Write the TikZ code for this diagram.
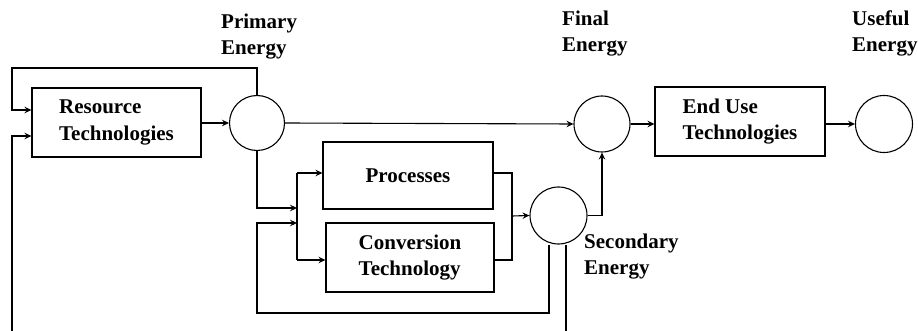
\documentclass[tikz,border=0pt]{standalone}
\usepackage{fontspec}
\setmainfont{Liberation Serif}
\usetikzlibrary{arrows.meta,calc}

\begin{document}
\begin{tikzpicture}[
  x=1pt, y=-1pt,
  every node/.style={font=\fontsize{21}{26.5}\selectfont\bfseries},
  line/.style={draw=black, line width=1.1pt},
  flow/.style={line, -{Stealth[length=7pt,width=6.5pt,inset=2.5pt]}},
  techbox/.style={line, rectangle, align=left, inner sep=0pt},
  energy/.style={line, circle, inner sep=0pt, minimum size=#1},
  tag/.style={align=left, anchor=north west, inner sep=0pt}
]
\useasboundingbox (0,0) rectangle (918,331);

% technology boxes
\node[techbox, minimum width=169pt, minimum height=69pt] (res)  at (116.5,122.5) {Resource\\Technologies};
\node[techbox, minimum width=170pt, minimum height=67pt] (proc) at (408,175.5)   {Processes};
\node[techbox, minimum width=168pt, minimum height=69pt] (conv) at (410,257.5)   {Conversion\\Technology};
\node[techbox, minimum width=170pt, minimum height=69pt] (eu)   at (740,121.5)   {End Use\\Technologies};

% energy carriers
\node[energy=55pt] (pe) at (257,123) {};
\node[energy=56pt] (fe) at (602,124) {};
\node[energy=57pt] (se) at (558.5,215.5) {};
\node[energy=57pt] (ue) at (884,124) {};

% labels
\node[tag] (lpe) at (221,13.5) {Primary\\Energy};
\node[tag] (lfe) at (562,10.5) {Final\\Energy};
\node[tag] (lue) at (852,10.5) {Useful\\Energy};
\node[tag] (lse) at (584,233.5) {Secondary\\Energy};

% routing points
\coordinate (tl) at (12,68);
\coordinate (bl) at (12,331);
\coordinate (ja) at (297,208);
\coordinate (jc) at (297,223);
\coordinate (jt) at (297,173);
\coordinate (jb) at (297,260);
\coordinate (mt) at (512,173);
\coordinate (mm) at (512,216);
\coordinate (mb) at (512,260);
\coordinate (fb) at (257,313);
\coordinate (br) at (566,331);

% main chain
\draw[flow] (res.east |- pe.west) -- (pe.west);
\draw[flow] (pe.east) -- (fe.west);
\draw[flow] (fe.east) -- (eu.west |- fe.east);
\draw[flow] (eu.east |- ue.west) -- (ue.west);

% feedback into resource technologies
\draw[flow] (pe.north) |- (tl) |- ([yshift=12.5pt]res.west);
\draw[flow] (bl) |- ([yshift=-13.5pt]res.west);

% split into processes / conversion
\draw[flow] (pe.south) |- (ja);
\draw[line] (jt) -- (jb);
\draw[flow] (jt) -- (jt -| proc.west);
\draw[flow] (jb) -- (jb -| conv.west);

% merge into secondary energy
\draw[line] (proc.east |- mt) -- (mt) -- (mb) -- (conv.east |- mb);
\draw[flow] (mm) -- (se.west);
\draw[flow] (se.east) -| (fe.south);

% recycling loop and outflow of secondary energy
\draw[flow] ([xshift=-9.5pt]se.south) |- (fb) |- (jc);
\draw[line] ([xshift=7.5pt]se.south) -- (br);
\end{tikzpicture}
\end{document}
